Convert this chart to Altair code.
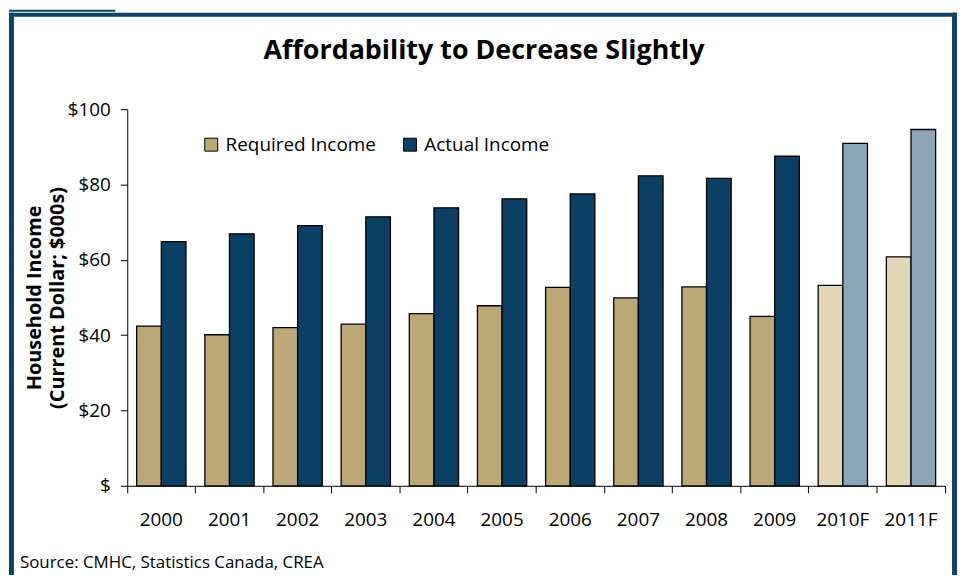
import altair as alt
import pandas as pd

years = ["2000", "2001", "2002", "2003", "2004", "2005", "2006", "2007", "2008", "2009", "2010F", "2011F"]
required = [42.4, 40.1, 42.0, 42.9, 45.7, 47.8, 52.7, 49.9, 52.8, 45.0, 53.2, 60.8]
actual = [64.8, 66.9, 69.1, 71.4, 73.8, 76.2, 77.5, 82.3, 81.6, 87.5, 90.9, 94.6]
forecast = [False] * 10 + [True] * 2
series_names = ["Required Income", "Actual Income"]
color_keys = ["Required Income", "Actual Income", "Required Income (F)", "Actual Income (F)"]
color_vals = ["#BBA876", "#0B3F63", "#E2D8B6", "#8CA6B9"]
y_ticks = [0, 20, 40, 60, 80, 100]
source_text = "Source: CMHC, Statistics Canada, CREA"
title_text = "Affordability to Decrease Slightly"
y_title = ["Household Income", "(Current Dollar; $000s)"]

rows = []
for i, yr in enumerate(years):
    for s, vals in zip(series_names, [required, actual]):
        rows.append({"year": yr, "series": s, "value": vals[i],
                     "key": s + (" (F)" if forecast[i] else "")})
df = pd.DataFrame(rows)

FONT = "Open Sans"
PW, PH = 823, 379

bars = alt.Chart(df).mark_bar(stroke="black", strokeWidth=1.3).encode(
    x=alt.X("year:N", sort=years,
            scale=alt.Scale(paddingInner=0, paddingOuter=0),
            axis=alt.Axis(title=None, labelAngle=0, labelFontSize=19, labelPadding=18,
                          labelFont=FONT, labelColor="black", grid=False,
                          tickSize=7, bandPosition=1, tickExtra=True,
                          labelOffset=0, domainColor="black", tickColor="black")),
    xOffset=alt.XOffset("series:N", sort=series_names,
                        scale=alt.Scale(paddingInner=0, paddingOuter=0.383)),
    y=alt.Y("value:Q", scale=alt.Scale(domain=[0, 100], nice=False),
            axis=alt.Axis(values=y_ticks, title=y_title, grid=False,
                          labelExpr="datum.value == 0 ? '$' : '$' + datum.value",
                          labelFont=FONT, labelColor="black",
                          labelFontSize=19, labelPadding=10, tickSize=7,
                          domainColor="black", tickColor="black",
                          titleFontSize=20, titleFontWeight="bold", titleLineHeight=23,
                          titlePadding=0, titleColor="black", titleFont=FONT)),
    color=alt.Color("key:N", scale=alt.Scale(domain=color_keys, range=color_vals),
                    legend=alt.Legend(values=series_names, title=None, orient="none",
                                      legendX=75, legendY=26, direction="horizontal",
                                      symbolType="square", symbolSize=170,
                                      symbolStrokeColor="black", symbolStrokeWidth=1,
                                      symbolOpacity=1,
                                      labelFontSize=19, labelFont=FONT, labelColor="black",
                                      labelOffset=5, columnPadding=24, padding=0)),
)

deco = pd.DataFrame({"t": [source_text], "title": [title_text]})
source = alt.Chart(deco).mark_text(align="left", baseline="alphabetic", fontSize=17,
                                   font=FONT, color="black").encode(
    text="t:N", x=alt.value(-108), y=alt.value(462))
title = alt.Chart(deco).mark_text(align="center", baseline="alphabetic", fontSize=27,
                                  fontWeight="bold", font=FONT, color="black").encode(
    text="title:N", x=alt.value(359), y=alt.value(-50))

FC = "#0E4467"
frame_left = alt.Chart(deco).mark_rect(color=FC).encode(
    x=alt.value(-119), x2=alt.value(-114), y=alt.value(-97), y2=alt.value(470))
frame_top = alt.Chart(deco).mark_rect(color=FC).encode(
    x=alt.value(-119), x2=alt.value(835), y=alt.value(-97), y2=alt.value(-93))
frame_right = alt.Chart(deco).mark_rect(color=FC).encode(
    x=alt.value(830), x2=alt.value(835), y=alt.value(-97), y2=alt.value(470))
tab = alt.Chart(deco).mark_rect(color=FC).encode(
    x=alt.value(-119), x2=alt.value(-12), y=alt.value(-100), y2=alt.value(-98))

chart = alt.layer(frame_left, frame_top, frame_right, tab, bars, source, title).properties(
    width=PW, height=PH,
    autosize=alt.AutoSizeParams(type="none"),
    padding={"left": 120, "top": 100, "right": 12, "bottom": 88},
).configure_view(stroke=None)

chart.save("out.html", embed_options={"renderer": "svg", "actions": False})
